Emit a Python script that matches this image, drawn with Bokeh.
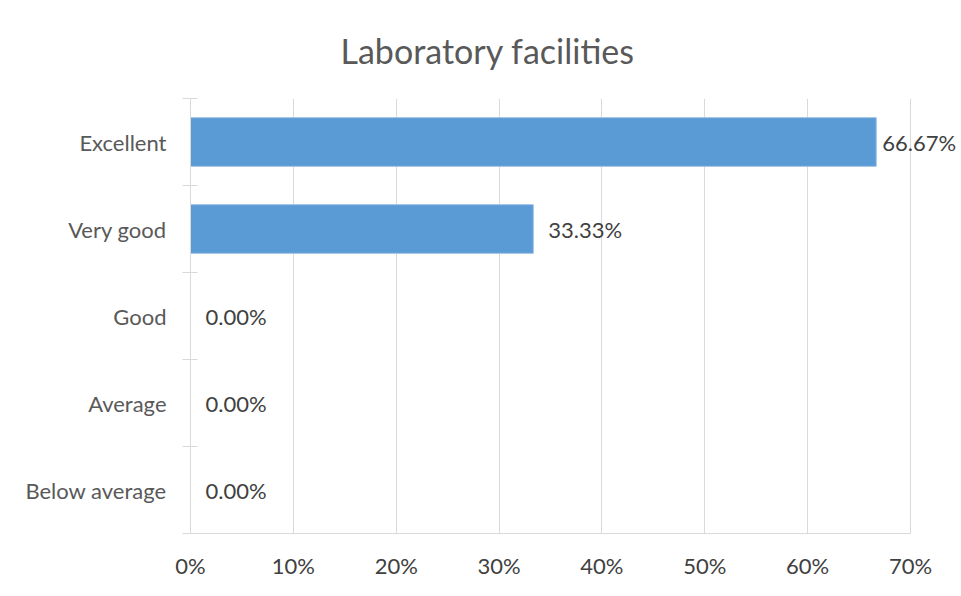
from bokeh.plotting import figure
from bokeh.models import (Range1d, LinearAxis, FixedTicker, NumeralTickFormatter,
                          ColumnDataSource, LabelSet)
from bokeh.core.properties import value
from bokeh.embed import file_html
from bokeh.resources import INLINE

# ---- data ----
title_text = "Laboratory facilities"
categories = ["Excellent", "Very good", "Good", "Average", "Below average"]
shares = [0.6667, 0.3333, 0.0, 0.0, 0.0]
value_labels = ["66.67%", "33.33%", "0.00%", "0.00%", "0.00%"]
x_ticks = [0.0, 0.1, 0.2, 0.3, 0.4, 0.5, 0.6, 0.7]

FONT = "Lato"
BAR = "#5b9bd5"
GRID = "#d9d9d9"

n = len(categories)
y_pos = [n - i - 0.5 for i in range(n)]          # category band centres, top to bottom
label_offsets = [6 if v > 0.6 else 15 for v in shares]
src = ColumnDataSource(dict(y=y_pos, val=shares, lab=value_labels, off=label_offsets))

# value axis spans 720 px; the frame runs on 50 px further so end labels are not clipped
AXIS_PX, EXTRA_PX = 720, 50
x_max = x_ticks[-1]
x_end = x_max * (AXIS_PX + EXTRA_PX) / AXIS_PX

p = figure(
    y_range=Range1d(0, n),
    x_range=Range1d(0, x_end),
    frame_width=AXIS_PX + EXTRA_PX, frame_height=435,
    min_border_left=190, min_border_right=1,
    min_border_top=98, min_border_bottom=63,
    output_backend="svg", toolbar_location=None,
    x_axis_location=None, y_axis_location=None,
)
p.outline_line_color = None
p.background_fill_color = "white"
p.border_fill_color = "white"

# title
p.title.text = title_text
p.title.text_font = FONT
p.title.text_font_size = "34px"
p.title.text_font_style = "normal"
p.title.text_color = "#595959"
p.title.align = "left"
p.title.offset = 150
p.title.vertical_align = "top"
p.title.standoff = 52

# bars
p.hbar(y="y", right="val", left=0, height=0.56, source=src,
       fill_color=BAR, line_color="#9dc3e6", line_width=1)

# data labels
labels = LabelSet(x="val", y="y", text="lab", source=src, x_offset="off",
                  text_align="left", text_baseline="middle",
                  text_font=value(FONT), text_font_size=value("22px"),
                  text_color=value("#404040"))
p.add_layout(labels)

# x axis
xaxis = LinearAxis(ticker=FixedTicker(ticks=x_ticks),
                   formatter=NumeralTickFormatter(format="0%"),
                   bounds=(0, x_max))
xaxis.axis_line_color = GRID
xaxis.major_tick_line_color = None
xaxis.minor_tick_line_color = None
xaxis.major_label_standoff = 12
xaxis.major_label_text_font = FONT
xaxis.major_label_text_font_size = "22px"
xaxis.major_label_text_color = "#404040"
p.add_layout(xaxis, "below")

# vertical gridlines
p.xgrid.grid_line_color = GRID
p.xgrid.ticker = FixedTicker(ticks=x_ticks)
p.ygrid.grid_line_color = None

# y axis line with ticks between categories
bounds = list(range(n + 1))
tick_axis = LinearAxis(ticker=FixedTicker(ticks=bounds))
tick_axis.axis_line_color = GRID
tick_axis.major_tick_line_color = GRID
tick_axis.major_tick_in = 7
tick_axis.major_tick_out = 8
tick_axis.minor_tick_line_color = None
tick_axis.major_label_text_font_size = "0px"
tick_axis.major_label_standoff = 0
tick_axis.major_label_overrides = {b: "" for b in bounds}
p.add_layout(tick_axis, "left")

# category labels
cat_axis = LinearAxis(ticker=FixedTicker(ticks=y_pos))
cat_axis.major_label_overrides = {y: c for y, c in zip(y_pos, categories)}
cat_axis.axis_line_color = None
cat_axis.major_tick_line_color = None
cat_axis.minor_tick_line_color = None
cat_axis.major_label_standoff = 10
cat_axis.major_label_text_font = FONT
cat_axis.major_label_text_font_size = "22px"
cat_axis.major_label_text_color = "#595959"
p.add_layout(cat_axis, "left")

open("out.html", "w").write(file_html(p, INLINE))
